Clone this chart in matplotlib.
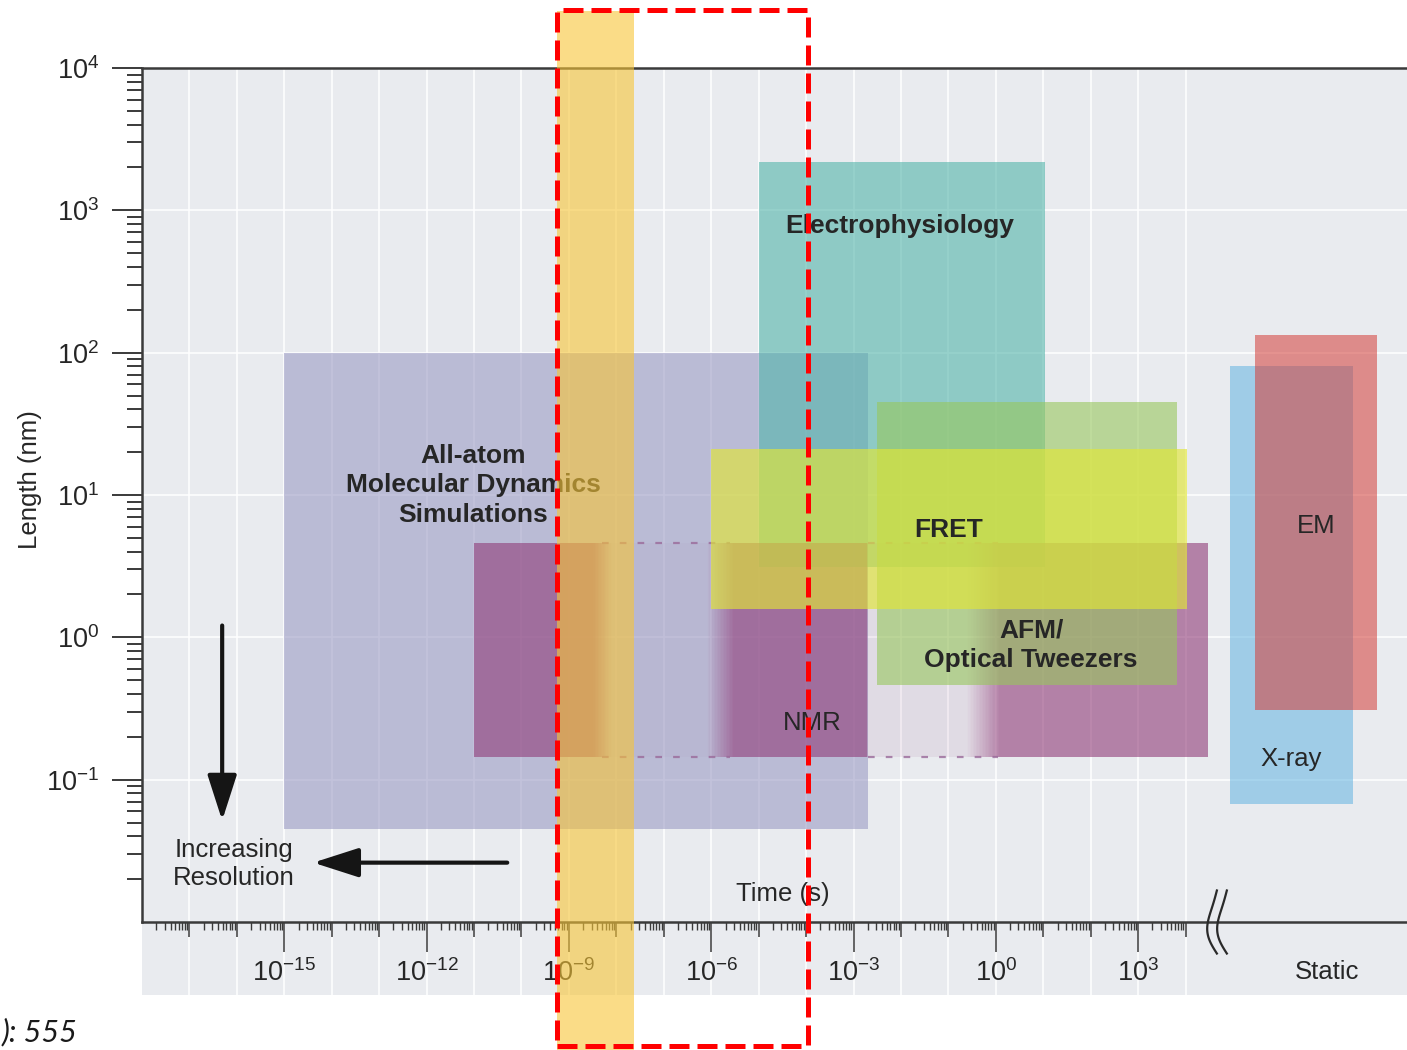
import numpy as np
import matplotlib
matplotlib.use("Agg")
import matplotlib.pyplot as plt
from matplotlib import transforms
from matplotlib.patches import Rectangle
from matplotlib.colors import LinearSegmentedColormap, to_rgba
from matplotlib.ticker import FixedLocator, FixedFormatter, NullFormatter

plt.rcParams['font.family'] = ['Liberation Sans', 'DejaVu Sans']
plt.rcParams['mathtext.fontset'] = 'custom'
plt.rcParams['mathtext.rm'] = 'Liberation Sans'
plt.rcParams['mathtext.it'] = 'Liberation Sans:italic'
plt.rcParams['mathtext.bf'] = 'Liberation Sans:bold'

# ---- technique ranges: time scale (s) and length scale (nm) ----
methods = ["All-atom\nMolecular Dynamics\nSimulations", "Electrophysiology",
           "NMR", "AFM/\nOptical Tweezers", "FRET"]
time_lo = [1e-15, 1e-5, 1e-11, 3.2e-3, 1e-6]
time_hi = [2e-3, 11.0, 3e4, 6.6e3, 1.07e4]
length_lo = [0.045, 3.1, 0.145, 0.46, 1.57]
length_hi = [100.0, 2200.0, 4.6, 45.0, 21.0]
method_colors = ["#9c9cc5", "#52b5aa", "#903b78", "#98c75d", "#e1e637"]
method_alpha = [0.6, 0.6, 0.6, 0.6, 0.65]

# static (structure) methods, placed right of the axis break
static_methods = ["X-ray", "EM"]
static_lo = [8.7e4, 2.95e5]
static_hi = [3.4e7, 1.1e8]
static_len_lo = [0.068, 0.31]
static_len_hi = [80.0, 134.0]
static_colors = ["#63b4e1", "#d43d37"]

# highlighted time window
band_lo, band_hi = 10**-9.245, 10**-7.62
box_lo, box_hi = 10**-9.245, 10**-3.96

# axis ticks
time_exp = [-15, -12, -9, -6, -3, 0, 3]
length_exp = [-1, 0, 1, 2, 3, 4]

BG = "#e9ebef"
INK = "#262626"

fig = plt.figure(figsize=(14.07, 10.5), dpi=100)
ax = fig.add_axes([142 / 1407, 128 / 1050, 1265 / 1407, 854 / 1050])
ax.set_xscale('log')
ax.set_yscale('log')
ax.set_xlim(1e-18, 10**8.668)
ax.set_ylim(1e-2, 1e4)
ax.set_facecolor(BG)

xa = transforms.blended_transform_factory(ax.transData, ax.transAxes)
xf = transforms.blended_transform_factory(ax.transData, fig.transFigure)

# grey strip under the time axis (tick label area)
strip_h = 73 / 854
ax.add_patch(Rectangle((0, -strip_h), 1, strip_h, transform=ax.transAxes,
                       facecolor=BG, edgecolor='none', clip_on=False, zorder=0.1))

# white grid: every decade
decades = 10.0**np.arange(-17, 5)
ax.vlines(decades, 1e-2, 1e4, color='white', lw=1.1, zorder=0.5)
ax.vlines(decades, -strip_h, 0, transform=xa, color='white', lw=1.1,
          clip_on=False, zorder=0.2)
ax.hlines(10.0**np.arange(-1, 4), 1e-18, 10**8.668, color='white', lw=1.1, zorder=0.5)

# method boxes
for i, name in enumerate(methods):
    if name == "NMR":
        continue
    ax.add_patch(Rectangle((time_lo[i], length_lo[i]), time_hi[i] - time_lo[i],
                           length_hi[i] - length_lo[i], facecolor=method_colors[i],
                           alpha=method_alpha[i], edgecolor='none', zorder=1.0 + 0.1 * i))

# NMR has gaps in its time coverage: fade the box in and out
i = methods.index("NMR")
knots_x = [-10.99, -8.49, -8.09, -6.09, -5.52, -2.73, -2.69, -0.61, 0.09, 4.47]
knots_a = [1, 1, 0.05, 0.05, 1, 1, 0.15, 0.15, 1, 1]
edges = np.linspace(np.log10(time_lo[i]), np.log10(time_hi[i]), 500)
mids = 0.5 * (edges[1:] + edges[:-1])
fade = np.interp(mids, knots_x, knots_a)
cmap = LinearSegmentedColormap.from_list(
    'nmr', [to_rgba(method_colors[i], 0.0), to_rgba(method_colors[i], method_alpha[i])])
ax.pcolormesh(10.0**edges, [length_lo[i], length_hi[i]], fade[np.newaxis, :],
              cmap=cmap, vmin=0, vmax=1, shading='flat', zorder=1.2)
for g0, g1 in [(-8.3, -5.6), (-2.7, 0.05)]:
    for yv in (length_lo[i], length_hi[i]):
        ax.plot([10**g0, 10**g1], [yv, yv], color="#9a6a9a", lw=1.6,
                ls=(0, (3, 5)), alpha=0.8, zorder=1.25)

for j, name in enumerate(static_methods):
    ax.add_patch(Rectangle((static_lo[j], static_len_lo[j]), static_hi[j] - static_lo[j],
                           static_len_hi[j] - static_len_lo[j], facecolor=static_colors[j],
                           alpha=0.55, edgecolor='none', zorder=1.6 + 0.1 * j))

# labels
bold = dict(fontsize=19, fontweight='bold', color=INK, ha='center', va='center', zorder=4)
norm = dict(fontsize=18.5, color=INK, ha='center', va='center', zorder=4)
ax.text(10**-11.02, 10**1.067, methods[0], linespacing=1.3, **bold)
ax.text(10**-2.02, 10**2.89, methods[1], **bold)
ax.text(10**-3.87, 10**-0.599, methods[2], **norm)
ax.text(10**0.744, 10**-0.057, methods[3], linespacing=1.3, **bold)
ax.text(10**-1.0, 10**0.751, methods[4], **bold)
ax.text(10**6.22, 10**-0.852, static_methods[0], **norm)
ax.text(10**6.75, 10**0.779, static_methods[1], **norm)
ax.text(10**-4.5, 10**-1.80, "Time (s)", **norm)
ax.text(10**6.99, -50 / 854, "Static", transform=xa, **norm)
ax.text(10**-16.06, 10**-1.594, "Increasing\nResolution", linespacing=1.2, **norm)

# resolution arrows
arrow = dict(arrowstyle='-|>,head_length=1.4,head_width=0.45', lw=3, color='#151515',
             mutation_scale=20, shrinkA=0, shrinkB=0)
ax.annotate('', xy=(10**-16.31, 10**-1.287), xytext=(10**-16.31, 10**0.083),
            arrowprops=arrow, zorder=4)
ax.annotate('', xy=(10**-14.39, 10**-1.583), xytext=(10**-10.30, 10**-1.583),
            arrowprops=arrow, zorder=4)

# axis styling
for side in ('left', 'bottom', 'top'):
    ax.spines[side].set_color('#3a3a3a')
    ax.spines[side].set_linewidth(1.8)
ax.spines['right'].set_visible(False)

ax.xaxis.set_major_locator(FixedLocator(10.0**np.array(time_exp)))
ax.xaxis.set_major_formatter(FixedFormatter([r'$10^{%d}$' % e for e in time_exp]))
x_minor = [k * 10.0**n for n in range(-18, 4) for k in range(2, 10)]
ax.xaxis.set_minor_locator(FixedLocator(x_minor))
ax.xaxis.set_minor_formatter(NullFormatter())

ax.yaxis.set_major_locator(FixedLocator(10.0**np.array(length_exp)))
ax.yaxis.set_major_formatter(FixedFormatter([r'$10^{%d}$' % e for e in length_exp]))
y_minor = [k * 10.0**n for n in range(-2, 4) for k in range(2, 10)]
ax.yaxis.set_minor_locator(FixedLocator(y_minor))
ax.yaxis.set_minor_formatter(NullFormatter())

ax.tick_params(axis='x', which='major', direction='out', length=21.6, width=1.1,
               pad=5, labelsize=19.5, color='#3a3a3a', labelcolor=INK)
ax.tick_params(axis='x', which='minor', direction='out', length=5.8, width=1.0, color='#3a3a3a')
ax.tick_params(axis='y', which='major', direction='out', length=21.6, width=1.4,
               pad=9, labelsize=19.5, color='#3a3a3a', labelcolor=INK)
ax.tick_params(axis='y', which='minor', direction='out', length=11, width=1.4, color='#3a3a3a')

# unlabelled decades get a medium tick
mid_decades = [d for d in decades if int(round(np.log10(d))) not in time_exp]
ax.vlines(mid_decades, -15 / 854, 0, transform=xa, color='#3a3a3a', lw=1.1, clip_on=False)

ax.set_ylabel("Length (nm)", fontsize=18.5, color=INK)
ax.yaxis.set_label_coords(-0.079, 0.518)

# axis break before the static column
t = np.linspace(0, 1, 40)
for xc in (4.66, 4.87):
    bx = 10**(xc - 0.19 * np.sin(np.pi * t) + 0.04 * np.sin(2 * np.pi * t))
    by = 0.0369 - 2 * 0.0369 * t
    ax.plot(bx, by, transform=xa, color='#2a2a2a', lw=1.6, clip_on=False, zorder=3)

# highlighted window across the whole figure height
ax.add_patch(Rectangle((band_lo, 0), band_hi - band_lo, 1 - 11 / 1050, transform=xf,
                       facecolor="#f7c537", alpha=0.6, edgecolor='none',
                       clip_on=False, zorder=5))
ax.add_patch(Rectangle((box_lo, 4 / 1050), box_hi - box_lo, 1036 / 1050, transform=xf,
                       facecolor='none', edgecolor='#ff0000', lw=3.6, ls=(0, (4, 1.6)),
                       clip_on=False, zorder=6))

fig.text(0.001, 1 - 1032 / 1050, "): 555", fontsize=22, style='italic',
         family=['Lato', 'DejaVu Sans'], color='#1a1a1a', ha='left', va='center')

fig.savefig("out.png", dpi=100, facecolor='white')
